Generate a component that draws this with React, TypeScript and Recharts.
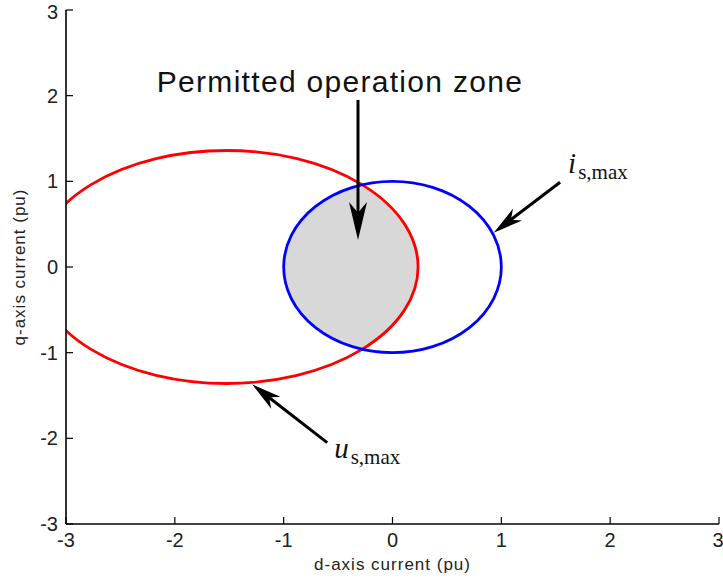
import { ComposedChart, XAxis, YAxis, ReferenceArea, ReferenceLine, Scatter } from 'recharts';

const axisTicks = [-3, -2, -1, 0, 1, 2, 3];

// limit curves in the d-q plane: centre and semi-axes (pu)
const curveNames = ['us,max', 'is,max'];
const centreD = [-1.525, 0];
const centreQ = [0, 0];
const semiAxisD = [1.76, 1];
const semiAxisQ = [1.36, 1];

// annotation arrows: tail -> head (pu)
const arrowTailD = [-0.317, 1.54, -0.6];
const arrowTailQ = [1.95, 0.99, -2.05];
const arrowHeadD = [-0.317, 0.93, -1.29];
const arrowHeadQ = [0.315, 0.4, -1.37];
const arrowLabels = ['Permitted operation zone', 'i', 'u'];
const arrowSubscripts = ['', 's,max', 's,max'];

const VOLTAGE_COLOR = '#ff0000';
const CURRENT_COLOR = '#0000ff';
const ZONE_FILL = '#d9d8d8';
const SANS = '"Liberation Sans", Arial, sans-serif';
const SERIF = '"Liberation Serif", "Times New Roman", serif';

// labels sit at the tail of each arrow
const labelPoints = arrowLabels.map((text, i) => ({
  d: arrowTailD[i],
  q: arrowTailQ[i],
  text,
  sub: arrowSubscripts[i],
  idx: i,
}));

function ellipseFromBox(p: any) {
  return { cx: p.x + p.width / 2, cy: p.y + p.height / 2, rx: Math.abs(p.width) / 2, ry: Math.abs(p.height) / 2 };
}

// voltage limit ellipse, also exported as a clip path for the shaded zone
function VoltageEllipse(props: any) {
  const e = ellipseFromBox(props);
  return (
    <g clipPath={props.clipPath}>
      <defs>
        <clipPath id="voltage-limit">
          <ellipse cx={e.cx} cy={e.cy} rx={e.rx} ry={e.ry} />
        </clipPath>
      </defs>
      <ellipse {...e} fill="none" stroke={VOLTAGE_COLOR} strokeWidth={2.8} />
    </g>
  );
}

function CurrentCircle(props: any) {
  const e = ellipseFromBox(props);
  return <ellipse {...e} fill="none" stroke={CURRENT_COLOR} strokeWidth={2.8} />;
}

// intersection of both limits
function ZoneFill(props: any) {
  const e = ellipseFromBox(props);
  return (
    <g clipPath="url(#voltage-limit)">
      <ellipse {...e} fill={ZONE_FILL} stroke="none" />
    </g>
  );
}

function Arrow(props: any) {
  const { x1, y1, x2, y2, index } = props;
  const ang = Math.atan2(y2 - y1, x2 - x1);
  const L = index === 0 ? 38 : 30;
  const W = index === 0 ? 18 : 15;
  const lx = x2 - Math.cos(ang) * L * 0.7;
  const ly = y2 - Math.sin(ang) * L * 0.7;
  const deg = (ang * 180) / Math.PI;
  return (
    <g>
      <line x1={x1} y1={y1} x2={lx} y2={ly} stroke="#000" strokeWidth={3} />
      <polygon
        points={`0,0 ${-L},${-W / 2} ${-L * 0.72},0 ${-L},${W / 2}`}
        fill="#000"
        transform={`translate(${x2},${y2}) rotate(${deg})`}
      />
    </g>
  );
}

function AnnotationLabel(props: any) {
  const { cx, cy, payload } = props;
  if (payload.idx === 0) {
    return (
      <text x={cx - 18} y={cy - 8} textAnchor="middle" fontFamily={SANS} fontSize={30} letterSpacing={1.3} fill="#111">
        {payload.text}
      </text>
    );
  }
  const dx = payload.idx === 1 ? 8 : 7;
  const dy = payload.idx === 1 ? -9 : 15;
  return (
    <text x={cx + dx} y={cy + dy} fontFamily={SERIF} fill="#111">
      <tspan fontStyle="italic" fontSize={29}>{payload.text}</tspan>
      <tspan fontSize={21} dx={2} dy={6}>{payload.sub}</tspan>
    </text>
  );
}

const tickStyle = { fontSize: 20, fill: '#222', fontFamily: SANS };

export default function App() {
  const box = (i: number) => ({
    x1: centreD[i] - semiAxisD[i],
    x2: centreD[i] + semiAxisD[i],
    y1: centreQ[i] - semiAxisQ[i],
    y2: centreQ[i] + semiAxisQ[i],
  });

  return (
    <div style={{ position: 'absolute', left: 0, top: 0, width: 723, height: 585, background: '#fff' }}>
      <ComposedChart width={723} height={585} margin={{ top: 10, right: 4, bottom: 60, left: 65 }}>
        <XAxis
          type="number"
          dataKey="d"
          domain={[-3, 3]}
          ticks={axisTicks}
          allowDataOverflow
          height={1}
          tickSize={-7}
          tickMargin={16}
          tick={tickStyle}
          axisLine={{ stroke: '#000', strokeWidth: 1.6 }}
          tickLine={{ stroke: '#000', strokeWidth: 1.2 }}
          label={{
            value: 'd-axis current (pu)',
            position: 'bottom',
            offset: 33,
            style: { fontSize: 17, fill: '#222', fontFamily: SANS, letterSpacing: 1 },
          }}
        />
        <YAxis
          type="number"
          dataKey="q"
          domain={[-3, 3]}
          ticks={axisTicks}
          allowDataOverflow
          width={1}
          tickSize={-7}
          tickMargin={15}
          tick={tickStyle}
          axisLine={{ stroke: '#000', strokeWidth: 1.6 }}
          tickLine={{ stroke: '#000', strokeWidth: 1.2 }}
          label={{
            value: 'q-axis current (pu)',
            position: 'left',
            angle: -90,
            offset: 46,
            style: { fontSize: 17, fill: '#222', fontFamily: SANS, letterSpacing: 1, textAnchor: 'middle' },
          }}
        />
        <ReferenceArea {...box(1)} ifOverflow="visible" shape={(p: any) => <ZoneFill {...p} />} />
        <ReferenceArea {...box(0)} ifOverflow="hidden" shape={(p: any) => <VoltageEllipse {...p} />} />
        <ReferenceArea {...box(1)} ifOverflow="visible" shape={(p: any) => <CurrentCircle {...p} />} />
        {arrowLabels.map((_, i) => (
          <ReferenceLine
            key={i}
            segment={[
              { x: arrowTailD[i], y: arrowTailQ[i] },
              { x: arrowHeadD[i], y: arrowHeadQ[i] },
            ]}
            ifOverflow="visible"
            shape={(p: any) => <Arrow {...p} index={i} />}
          />
        ))}
        <Scatter data={labelPoints} dataKey="q" isAnimationActive={false} shape={(p: any) => <AnnotationLabel {...p} />} />
      </ComposedChart>
    </div>
  );
}
